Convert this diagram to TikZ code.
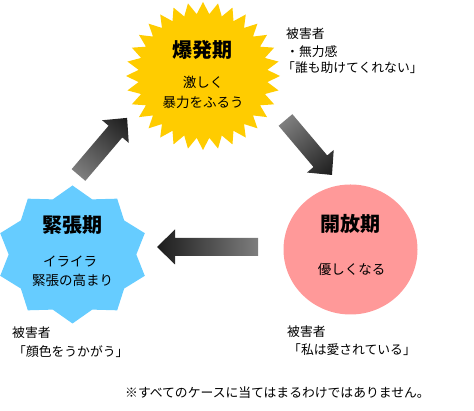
\documentclass[tikz,border=0pt]{standalone}
\usepackage{fontspec}
\setmainfont{Noto Sans CJK JP}
\definecolor{burstyellow}{HTML}{FFCC00}
\definecolor{burstblue}{HTML}{66CCFF}
\definecolor{circpink}{HTML}{FF9999}
\definecolor{arrlight}{HTML}{7E7E7E}
\definecolor{arrmid}{HTML}{8E8E8E}
\definecolor{arrdark}{HTML}{1C1C1C}
\newcommand\burstshape[8]{% cx cy rx ry n last ratio color
  \fill[#8] ({#1},{#2+#4}) \foreach \i in {1,...,#6} {-- ({#1+#3*(mod(\i,2)==0?1:#7)*cos(90+\i*180/#5)},{#2+#4*(mod(\i,2)==0?1:#7)*sin(90+\i*180/#5)})} -- cycle;}
\newcommand\blockarr[4]{% tail x, tail y, angle, length
  \begin{scope}[transform canvas={shift={(#1,#2)},rotate=#3}]
    \shade[left color=arrlight, middle color=arrmid, right color=arrdark]
      (0,-9) -- ({#4-18},-9) -- ({#4-18},-17.5) -- (#4,0) -- ({#4-18},17.5) -- ({#4-18},9) -- (0,9) -- cycle;
  \end{scope}}
\tikzset{
  title/.style={font=\fontsize{20}{22}\selectfont\bfseries, inner sep=0pt},
  body/.style={font=\fontsize{13.5}{16}\selectfont, inner sep=0pt},
  note/.style={font=\fontsize{12.8}{15}\selectfont, inner sep=0pt, anchor=west},
}
\begin{document}
\begin{tikzpicture}[x=1pt,y=1pt]
\useasboundingbox (0,0) rectangle (474,411);
% shapes
\coordinate (burst) at (203,335);
\coordinate (tension) at (72.5,156.5);
\burstshape{203}{335}{77}{74}{32}{63}{0.84}{burstyellow}
\burstshape{72.5}{156.5}{76}{69}{10}{19}{0.84}{burstblue}
\fill[circpink] (350.5,161.5) ellipse [x radius=67, y radius=65];
\coordinate (release) at (350.5,161.5);
% arrows
\blockarr{78.5}{236}{49.6}{75}
\blockarr{285.5}{291}{-49.8}{72}
\blockarr{258}{164}{180}{101}
% texts
\node[title] (t1) at (202.5,361) {爆発期};
\node[body] (b1a) at (203,329) {激しく};
\node[body] (b1b) at (203,309) {暴力をふるう};
\node[title] (t2) at (72.5,186) {緊張期};
\node[body] (b2a) at (70,150) {イライラ};
\node[body] (b2b) at (72.5,131) {緊張の高まり};
\node[title] (t3) at (350,187) {開放期};
\node[body] (b3a) at (351.5,142) {優しくなる};
% notes
\node[note] (n1a) at (286,377) {被害者};
\node[note] (n1b) at (286,359) {・無力感};
\node[note] (n1c) at (282,343) {「誰も助けてくれない」};
\node[note] (n2a) at (12,78) {被害者};
\node[note] (n2b) at (13,59) {「顔色をうかがう」};
\node[note] (n3a) at (287,79) {被害者};
\node[note] (n3b) at (288,61) {「私は愛されている」};
\node[note] (foot) at (125,18) {※すべてのケースに当てはまるわけではありません。};
\end{tikzpicture}
\end{document}
